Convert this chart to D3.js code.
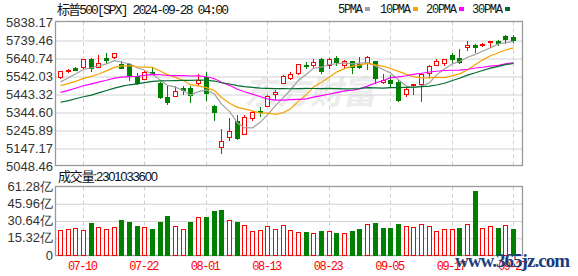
<!DOCTYPE html>
<html><head><meta charset="utf-8">
<script src="https://d3js.org/d3.v7.min.js"></script>
<style>
  body { margin: 0; background: #fff; }
  svg { display: block; }
  .axis .domain, .axis .tick line { display: none; }
  .ylab text { font-family: "Liberation Sans", Arial, sans-serif; font-size: 13px; fill: #333; }
  .xlab text { font-family: "Liberation Mono", monospace; font-size: 12px; fill: #f00; }
  .hgrid line { stroke: #d2d2d2; }
  .hgrid .domain { stroke: none; }
  .vgrid line { stroke: #cfcfcf; stroke-dasharray: 4,3; }
  .vgrid .domain { stroke: none; }
</style>
</head><body>
<svg id="kline" width="578" height="276"></svg>
<script>
// trading days shown (MM-DD)
const dates = ["07-05","07-08","07-09","07-10","07-11","07-12","07-15","07-16","07-17","07-18","07-19",
  "07-22","07-23","07-24","07-25","07-26","07-29","07-30","07-31","08-01","08-02","08-05","08-06","08-07",
  "08-08","08-09","08-12","08-13","08-14","08-15","08-16","08-19","08-20","08-21","08-22","08-23","08-26",
  "08-27","08-28","08-29","08-30","09-03","09-04","09-05","09-06","09-09","09-10","09-11","09-12","09-13",
  "09-16","09-17","09-18","09-19","09-20","09-23","09-24","09-25","09-26","09-27"];

const opens = [5537.91,5572.75,5584.24,5591.26,5635.21,5590.76,5638.16,5644.09,5610.23,5608.56,5543.37,
  5526.09,5565.30,5505.84,5428.70,5433.67,5476.55,5478.73,5505.59,5537.84,5376.63,5151.14,5206.42,5293.13,
  5226.31,5314.19,5351.88,5376.98,5442.14,5501.13,5530.50,5557.23,5602.88,5603.09,5637.77,5602.51,5639.66,
  5602.89,5624.51,5607.30,5612.74,5623.89,5506.68,5520.08,5507.33,5442.07,5490.51,5496.42,5557.48,5603.34,
  5615.21,5655.51,5641.68,5702.63,5709.38,5711.90,5727.78,5733.65,5762.22,5755.36];
const highs = [5570.33,5583.11,5590.75,5635.39,5642.45,5655.56,5666.94,5669.67,5622.49,5614.05,5557.50,
  5570.36,5585.34,5508.04,5491.59,5488.32,5487.74,5489.46,5551.51,5566.16,5383.89,5250.89,5312.34,5330.64,
  5326.13,5351.47,5371.20,5436.50,5463.22,5546.23,5561.98,5608.30,5620.51,5632.68,5643.22,5641.82,5651.62,
  5631.18,5627.03,5646.95,5651.37,5623.89,5552.74,5546.30,5522.47,5484.20,5497.91,5560.41,5600.71,5636.27,
  5636.05,5670.81,5689.75,5733.57,5715.14,5725.36,5735.32,5741.03,5767.37,5764.76];
const lows = [5531.63,5562.51,5574.57,5586.44,5571.42,5590.44,5614.75,5639.02,5584.81,5522.81,5497.04,
  5524.03,5550.90,5419.98,5390.95,5430.70,5444.44,5398.99,5493.75,5410.42,5302.03,5119.26,5193.56,5195.54,
  5224.82,5301.29,5324.37,5376.98,5415.00,5501.13,5525.17,5550.74,5585.50,5591.57,5560.95,5585.16,5602.34,
  5593.48,5560.95,5583.71,5581.79,5504.33,5503.41,5480.42,5402.62,5434.49,5441.72,5406.96,5535.50,5601.65,
  5604.53,5614.05,5615.08,5686.42,5674.49,5704.22,5698.99,5712.06,5721.01,5727.73];
const closes = [5567.19,5572.85,5576.98,5633.91,5584.54,5615.35,5631.22,5667.20,5588.27,5544.59,5505.00,
  5564.41,5555.74,5427.13,5399.22,5459.10,5463.54,5436.44,5522.30,5446.68,5346.56,5186.33,5240.03,5199.50,
  5319.31,5344.16,5344.39,5434.43,5455.21,5543.22,5554.25,5608.25,5597.12,5620.85,5570.64,5634.61,5616.84,
  5625.80,5592.18,5591.96,5648.40,5528.93,5520.07,5503.41,5408.42,5471.05,5495.52,5554.13,5595.76,5626.02,
  5633.09,5634.58,5618.26,5713.64,5702.55,5718.57,5732.93,5722.26,5745.37,5738.17];
// closes before the first visible day, needed for the moving averages
const priorCloses = [5307.01,5267.84,5304.72,5306.04,5266.95,5235.48,5277.51,5283.40,5291.34,5354.03,
  5352.96,5346.99,5360.79,5375.32,5421.03,5433.74,5431.60,5473.23,5487.03,5473.17,5464.62,5447.87,
  5469.30,5477.90,5482.87,5460.48,5475.09,5509.01,5537.02];
// volume in 亿
const volumes = [22.2,23.1,24.0,22.2,28.7,24.6,23.1,24.9,31.1,29.6,25.8,24.9,23.1,29.6,34.6,25.8,23.1,29.6,
  33.7,33.7,39.1,40.0,31.1,29.6,26.6,21.6,22.2,25.8,23.1,26.6,22.2,20.4,20.4,19.5,21.3,21.3,19.5,19.5,21.3,
  23.1,27.5,28.7,24.3,24.3,27.8,25.8,24.9,27.5,25.8,21.3,23.1,23.1,24.0,27.5,57.1,24.0,25.8,24.0,26.6,23.01];
const lastVolume = "2301033600";

const priceTicks = [5838.17,5739.46,5640.74,5542.03,5443.32,5344.60,5245.89,5147.17,5048.46];
const volTicks = [0,15.32,30.64,45.96,61.28];
const xTickDates = ["07-10","07-22","08-01","08-13","08-23","09-05","09-17","09-27"];
const maPeriods = [5,10,20,30];
const maColors = ["#a0a0a0","#f5a300","#ff00ff","#006b2c"];

const UP = "#ff0000", DOWN = "#008000";

const svg = d3.select("#kline");
const box = {left: 55.5, right: 522.5, pTop: 21.5, pBot: 165.5, vTop: 186.5, vBot: 255.5};

const x = d3.scaleBand().domain(dates).range([56, 517]);
const cx = d => Math.round(x(d) + x.bandwidth() / 2) + 0.5;
const y = d3.scaleLinear().domain([5048.46, 5838.17]).range([166, 22]);
const yv = d3.scaleLinear().domain([0, 61.28]).range([255, 186]);

// faint watermark behind everything
svg.append("text")
  .attr("transform", "translate(244,104) skewX(-12)")
  .style("font-family", "'Noto Sans CJK SC', sans-serif")
  .style("font-weight", "bold").style("font-size", "33px")
  .attr("fill", "#ececec").attr("textLength", 132)
  .text("东方财富");

// gridlines
svg.append("g").attr("class", "hgrid")
  .attr("transform", "translate(" + box.left + ",0)")
  .call(d3.axisLeft(y).tickValues(priceTicks.slice(1, -1)).tickSize(-(box.right - box.left)).tickFormat(""))
  .selectAll("line").attr("transform", "translate(0,0.5)");
svg.append("g").attr("class", "hgrid")
  .attr("transform", "translate(" + box.left + ",0)")
  .call(d3.axisLeft(yv).tickValues(volTicks.slice(1, -1)).tickSize(-(box.right - box.left)).tickFormat(""))
  .selectAll("line").attr("transform", "translate(0,0.5)");

[[box.pTop, box.pBot], [box.vTop, box.vBot]].forEach(r => {
  svg.append("g").attr("class", "vgrid")
    .selectAll("line").data(xTickDates).join("line")
    .attr("x1", d => cx(d)).attr("x2", d => cx(d))
    .attr("y1", r[0]).attr("y2", r[1]);
});

// panel frames
[[box.pTop, box.pBot], [box.vTop, box.vBot]].forEach(r => {
  svg.append("rect").attr("x", box.left).attr("y", r[0])
    .attr("width", box.right - box.left).attr("height", r[1] - r[0])
    .attr("fill", "none").attr("stroke", "#999").attr("stroke-width", 1.3);
});

// y labels
svg.append("g").attr("class", "axis ylab")
  .attr("transform", "translate(55,0)")
  .call(d3.axisLeft(y).tickValues(priceTicks).tickSize(0).tickPadding(2).tickFormat(d3.format(".2f")));
svg.append("g").attr("class", "axis ylab")
  .attr("transform", "translate(55,0)")
  .call(d3.axisLeft(yv).tickValues(volTicks).tickSize(0).tickPadding(2)
    .tickFormat(d => d === 0 ? "0" : d3.format(".2f")(d) + "亿"));

// x labels
svg.append("g").attr("class", "axis xlab")
  .attr("transform", "translate(0,256)")
  .call(d3.axisBottom(x).tickValues(xTickDates).tickSize(0).tickPadding(5))
  .selectAll("text").attr("textLength", 30);

// candles
const candles = svg.append("g").attr("shape-rendering", "crispEdges");
dates.forEach((d, i) => {
  const up = closes[i] >= opens[i];
  const col = up ? UP : DOWN;
  const xc = cx(d);
  candles.append("line")
    .attr("x1", xc).attr("x2", xc)
    .attr("y1", Math.round(y(highs[i]))).attr("y2", Math.round(y(lows[i])) + 1)
    .attr("stroke", col);
  const top = Math.round(y(Math.max(opens[i], closes[i])));
  const bot = Math.max(Math.round(y(Math.min(opens[i], closes[i]))), top + 1);
  if (up) {
    candles.append("rect")
      .attr("x", xc - 2).attr("y", top + 0.5)
      .attr("width", 4).attr("height", Math.max(bot - top, 0.01))
      .attr("fill", "#fff").attr("stroke", col);
  } else {
    candles.append("rect")
      .attr("x", xc - 2.5).attr("y", top)
      .attr("width", 5).attr("height", Math.max(bot - top, 1) + 1)
      .attr("fill", col);
  }
});

// moving averages
const allCloses = priorCloses.concat(closes);
const off = priorCloses.length;
maPeriods.forEach((p, k) => {
  const ma = dates.map((d, i) => d3.mean(allCloses.slice(off + i - p + 1, off + i + 1)));
  svg.append("path")
    .datum(ma)
    .attr("fill", "none").attr("stroke", maColors[k]).attr("stroke-width", 1.2)
    .attr("d", d3.line().x((v, i) => cx(dates[i])).y(v => y(v)));
});

// volume bars, coloured by change from previous close
const vols = svg.append("g").attr("shape-rendering", "crispEdges");
dates.forEach((d, i) => {
  const prev = i === 0 ? priorCloses[priorCloses.length - 1] : closes[i - 1];
  const up = closes[i] >= prev;
  const xc = cx(d);
  const top = Math.round(yv(volumes[i]));
  if (up) {
    vols.append("rect").attr("x", xc - 2).attr("y", top + 0.5)
      .attr("width", 4).attr("height", 255 - top - 0.5)
      .attr("fill", "#fff").attr("stroke", UP);
  } else {
    vols.append("rect").attr("x", xc - 2.5).attr("y", top)
      .attr("width", 5).attr("height", 255.5 - top)
      .attr("fill", DOWN);
  }
});

// title and legend
svg.append("text").attr("x", 57).attr("y", 14)
  .style("font-family", "'Liberation Mono', 'Noto Sans CJK SC', monospace").style("font-size", "13px")
  .attr("fill", "#111").attr("textLength", 172)
  .text("标普500[SPX] 2024-09-28 04:00");

const legendX = [338, 380, 426, 472];
maPeriods.forEach((p, k) => {
  const label = p + "PMA";
  svg.append("text").attr("x", legendX[k]).attr("y", 13)
    .style("font-family", "'Liberation Mono', monospace").style("font-size", "12px")
    .attr("fill", "#111").attr("textLength", label.length * 6 + 1)
    .text(label);
  svg.append("rect").attr("x", legendX[k] + label.length * 6 + 3).attr("y", 7)
    .attr("width", 5).attr("height", 4).attr("fill", maColors[k]);
});

svg.append("text").attr("x", 58).attr("y", 181)
  .style("font-family", "'Liberation Sans', 'Noto Sans CJK SC', sans-serif").style("font-size", "13px")
  .attr("fill", "#111").attr("textLength", 100)
  .text("成交量:" + lastVolume);

// site watermark
svg.append("text").attr("x", 455).attr("y", 267)
  .style("font-family", "'Liberation Serif', serif").style("font-weight", "bold").style("font-size", "19px")
  .attr("fill", "#1c3c7c").attr("textLength", 115)
  .text("www.365jz.com");
</script>
</body></html>
